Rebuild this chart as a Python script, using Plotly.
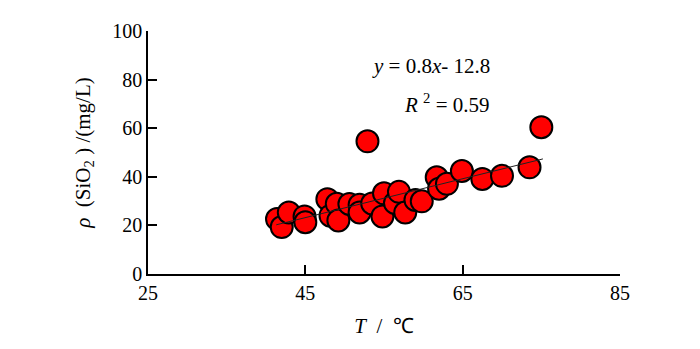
import plotly.graph_objects as go

# Data
temp_c = [41.4, 42.0, 42.9, 44.9, 45.0, 47.8, 48.2, 49.0, 49.2, 50.6,
          51.9, 51.9, 52.9, 53.5, 55.0, 54.8, 56.4, 56.9, 57.7, 59.0,
          59.8, 61.7, 62.0, 63.0, 64.9, 67.5, 70.0, 73.5, 75.0]
sio2 = [22.6, 19.3, 25.3, 23.7, 21.3, 30.8, 24.0, 28.9, 22.0, 28.8,
        28.5, 25.3, 54.6, 29.0, 33.2, 23.7, 29.2, 33.8, 25.3, 30.5,
        29.9, 39.8, 35.1, 37.1, 42.4, 39.1, 40.4, 43.9, 60.4]
trend_x = [41.3, 75.2]
trend_y = [20.24, 47.36]
x_ticks = [25, 45, 65, 85]
y_ticks = [0, 20, 40, 60, 80, 100]

serif = "Liberation Serif"
tick_font = dict(family=serif, size=20, color="black")
text_font = dict(family=serif, size=21, color="black")
nb = "\u00a0"

fig = go.Figure()
fig.add_trace(go.Scatter(
    x=temp_c, y=sio2, mode="markers",
    marker=dict(size=22, color="#FF0000", line=dict(color="black", width=2)),
    showlegend=False, cliponaxis=False))
fig.add_trace(go.Scatter(
    x=trend_x, y=trend_y, mode="lines",
    line=dict(color="#222222", width=1), showlegend=False))

fig.add_annotation(
    x=61.0, y=85.8, xref="x", yref="y", showarrow=False,
    text="<i>y</i> = 0.8<i>x</i>- 12.8", font=text_font)
fig.add_annotation(
    x=63.0, y=70.3, xref="x", yref="y", showarrow=False,
    text="<i>R</i>" + nb + "<sup>2</sup> = 0.59", font=text_font)

fig.update_xaxes(
    range=[25, 85], tickvals=x_ticks, ticktext=[str(v) for v in x_ticks],
    showgrid=False, zeroline=False, showline=True, linecolor="black", linewidth=1.5,
    ticks="inside", ticklen=9, tickwidth=1.5, tickcolor="black",
    tickfont=tick_font,
    title=dict(text="<i>T</i>" + nb * 2 + "/" + nb * 2 + "℃", font=text_font, standoff=16))
fig.update_yaxes(
    range=[0, 100], tickvals=y_ticks, ticktext=[str(v) for v in y_ticks],
    showgrid=False, zeroline=False, showline=True, linecolor="black", linewidth=1.5,
    ticks="inside", ticklen=9, tickwidth=1.5, tickcolor="black",
    tickfont=tick_font,
    title=dict(text="<i>ρ</i>" + nb * 2 + "(SiO<sub>2</sub>" + nb + ")" + nb + "/(mg/L)",
               font=text_font, standoff=16))

fig.update_layout(
    width=700, height=349,
    margin=dict(l=140, r=88, t=13, b=83),
    plot_bgcolor="white", paper_bgcolor="white")

fig.write_html("out.html")
